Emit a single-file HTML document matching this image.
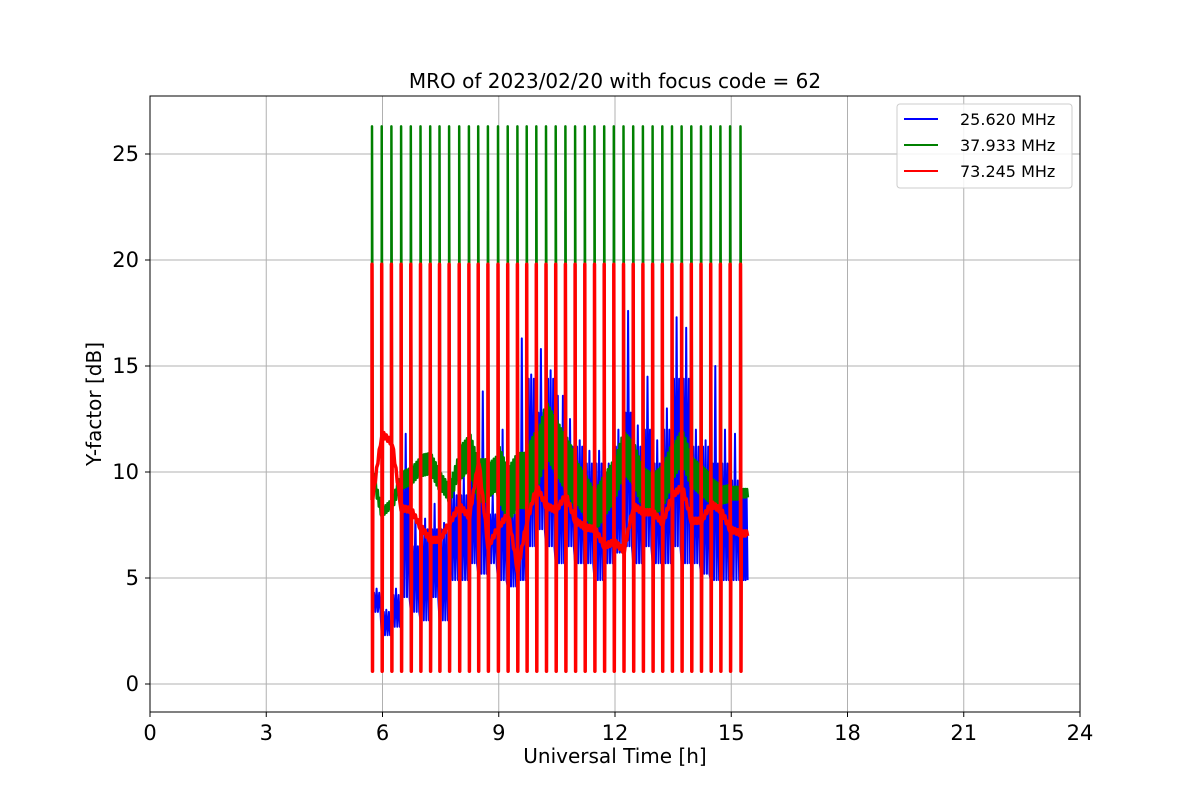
<!DOCTYPE html>
<html><head><meta charset="utf-8"><style>
body{margin:0;background:#fff;font-family:"Liberation Sans","DejaVu Sans",sans-serif}
svg text{font-family:"DejaVu Sans","Liberation Sans",sans-serif}
</style></head><body>
<svg id="c" width="1200" height="800" xmlns="http://www.w3.org/2000/svg"></svg>
<script>
const spikeTimes=[5.73,5.98,6.23,6.48,6.73,6.98,7.23,7.47,7.72,7.98,8.23,8.47,8.72,8.98,9.23,9.48,9.72,9.97,10.22,10.47,10.72,10.97,11.22,11.47,11.72,11.97,12.22,12.47,12.72,12.97,13.22,13.47,13.72,13.97,14.22,14.47,14.72,14.97,15.24];
const endTime=15.45;
const blueLo=[3.4,2.3,2.7,4.1,3.4,3.0,4.1,3.0,4.9,4.9,5.7,5.2,5.7,4.9,4.6,4.9,6.5,7.3,6.5,5.7,6.5,5.7,5.7,4.9,5.7,6.2,6.5,5.7,6.5,5.7,5.7,6.5,5.7,5.7,5.2,4.9,4.9,4.9,4.9];
const blueHi=[4.3,3.4,4.2,9.6,6.5,7.3,7.3,7.3,8.9,8.9,10.4,9.6,8.0,8.9,8.0,8.9,14.4,12.8,14.4,13.6,11.2,11.2,10.4,10.4,9.6,11.2,12.8,11.2,12.0,10.4,12.0,14.4,14.4,11.2,11.2,10.4,10.4,9.6,8.9];
const bluePeak=[4.5,3.5,4.5,11.8,8,7.8,8.5,7.6,9.5,9.8,10.8,13.8,9,12,9,16.3,14.6,15.8,14.8,11.8,12.5,11.5,11,11,10.4,12,17.6,12.2,14.5,11.5,13,17.3,16.8,12,11.5,15,12,11.8,9];
const greenMean=[9.8,8.1,8.5,9.6,9.8,10.3,10.4,9.6,9.0,10.4,10.9,9.6,9.6,10.0,8.9,9.6,9.6,10.4,12.0,11.2,10.4,9.6,8.9,8.1,8.9,9.6,10.9,10.4,9.2,8.9,9.3,10.4,11.2,10.0,9.6,9.2,8.9,9.0,9.0];
const greenAmp=[0.3,0.2,0.3,0.4,0.4,0.5,0.5,0.4,0.5,0.8,1.0,1.0,0.8,1.3,1.3,1.3,1.6,1.3,1.3,1.3,1.3,1.0,1.0,1.0,1.0,1.0,1.0,1.0,1.0,1.0,1.0,0.8,0.8,0.7,0.7,0.5,0.4,0.3,0.2];
const redMean=[8.8,11.8,11.4,8.3,8.2,7.4,6.8,6.8,7.6,8.4,7.9,10.5,6.5,7.4,8.0,5.4,7.7,9.3,8.4,8.2,8.9,7.7,7.4,7.3,6.5,6.7,6.3,8.4,8.1,8.1,7.6,8.9,9.3,7.7,7.7,8.5,8.2,7.3,7.1];
const spikeTop={blue:22.3,green:26.3,red:19.8};
const spikeBottom={blue:1.5,green:null,red:0.6};
const xTicks=[0,3,6,9,12,15,18,21,24];
const yTicks=[0,5,10,15,20,25];

const X0=150,X1=1080,Y0=96,Y1=712;
const xS=v=>X0+(v/24)*(X1-X0);
const yS=v=>684-v*21.2;
const svg=document.getElementById('c');
const NS='http://www.w3.org/2000/svg';
function mk(tag,attrs,parent){const e=document.createElementNS(NS,tag);for(const k in attrs)e.setAttribute(k,attrs[k]);(parent||svg).appendChild(e);return e;}

const grid=mk('g',{});


xTicks.forEach(t=>{mk('line',{x1:xS(t),x2:xS(t),y1:Y0,y2:Y1,stroke:'#b0b0b0','stroke-width':1},grid);});
yTicks.forEach(t=>{mk('line',{x1:X0,x2:X1,y1:yS(t),y2:yS(t),stroke:'#b0b0b0','stroke-width':1},grid);});

function series(name,color,width,wig,n){
  const pts=[];
  for(let k=0;k<spikeTimes.length;k++){
    const t=spikeTimes[k];
    const next=k+1<spikeTimes.length?spikeTimes[k+1]:endTime;
    const w=wig(k,0);
    pts.push([t,w]);
    pts.push([t,spikeTop[name]]);
    if(spikeBottom[name]!==null){pts.push([t+0.012,spikeBottom[name]]);}
    pts.push([t+0.02,w]);
    for(let i=1;i<=n;i++){
      const tt=t+0.02+(next-t-0.02)*i/(n+1);
      pts.push([tt,wig(k,i)]);
    }
  }
  const d=pts.map((p,i)=>(i?'L':'M')+xS(p[0]).toFixed(1)+','+yS(p[1]).toFixed(1)).join('');
  const p=mk('path',{d:d,fill:'none',stroke:color,'stroke-width':width,'stroke-linejoin':'round'});
  
  
}
series('blue','#0000ff',2,(k,i)=>i===3?bluePeak[k]:(i%2?blueHi[k]:blueLo[k]),6);
series('green','#008000',2.5,(k,i)=>{const nx=k+1<greenMean.length?greenMean[k+1]:greenMean[k];const m=greenMean[k]+(nx-greenMean[k])*i/9;return m+(i%2?greenAmp[k]:-greenAmp[k]);},8);
series('red','#ff0000',3.5,(k,i)=>{const nx=k+1<redMean.length?redMean[k+1]:redMean[k];const m=redMean[k]+(nx-redMean[k])*i/7;return m+(i%2?0.12:-0.12);},6);

const fr=mk('rect',{x:X0,y:Y0,width:X1-X0,height:Y1-Y0,fill:'none',stroke:'#000','stroke-width':1});


xTicks.forEach(t=>{
  mk('line',{x1:xS(t),x2:xS(t),y1:Y1,y2:Y1+5,stroke:'#000'});
  const tx=mk('text',{x:xS(t),y:740,'text-anchor':'middle','font-size':21});
  tx.textContent=t;
  
  
});
yTicks.forEach(t=>{
  mk('line',{x1:X0-5,x2:X0,y1:yS(t),y2:yS(t),stroke:'#000'});
  const tx=mk('text',{x:139,y:yS(t)+7,'text-anchor':'end','font-size':21});
  tx.textContent=t;
  
  
});
</script>
<svg width="1200" height="800" style="position:absolute;left:0;top:0" xmlns="http://www.w3.org/2000/svg">
<text x="615" y="88" text-anchor="middle" font-size="20" font-family="DejaVu Sans, Liberation Sans, sans-serif">MRO of 2023/02/20 with focus code = 62</text>
<text x="615" y="763" text-anchor="middle" font-size="20" font-family="DejaVu Sans, Liberation Sans, sans-serif">Universal Time [h]</text>
<text transform="translate(101,404) rotate(-90)" text-anchor="middle" font-size="20" font-family="DejaVu Sans, Liberation Sans, sans-serif">Y-factor [dB]</text>
<g font-family="DejaVu Sans, Liberation Sans, sans-serif" font-size="16">
<rect x="897" y="104" width="175" height="84" rx="3" fill="#fff" fill-opacity="0.85" stroke="#ccc"/>
<g><line x1="904" x2="938" y1="119" y2="119" stroke="#0000ff" stroke-width="2"/><text x="960" y="125">25.620 MHz</text></g>
<g><line x1="904" x2="938" y1="145" y2="145" stroke="#008000" stroke-width="2"/><text x="960" y="151">37.933 MHz</text></g>
<g><line x1="904" x2="938" y1="171" y2="171" stroke="#ff0000" stroke-width="2"/><text x="960" y="177">73.245 MHz</text></g>
</g>
</svg>
</body></html>
